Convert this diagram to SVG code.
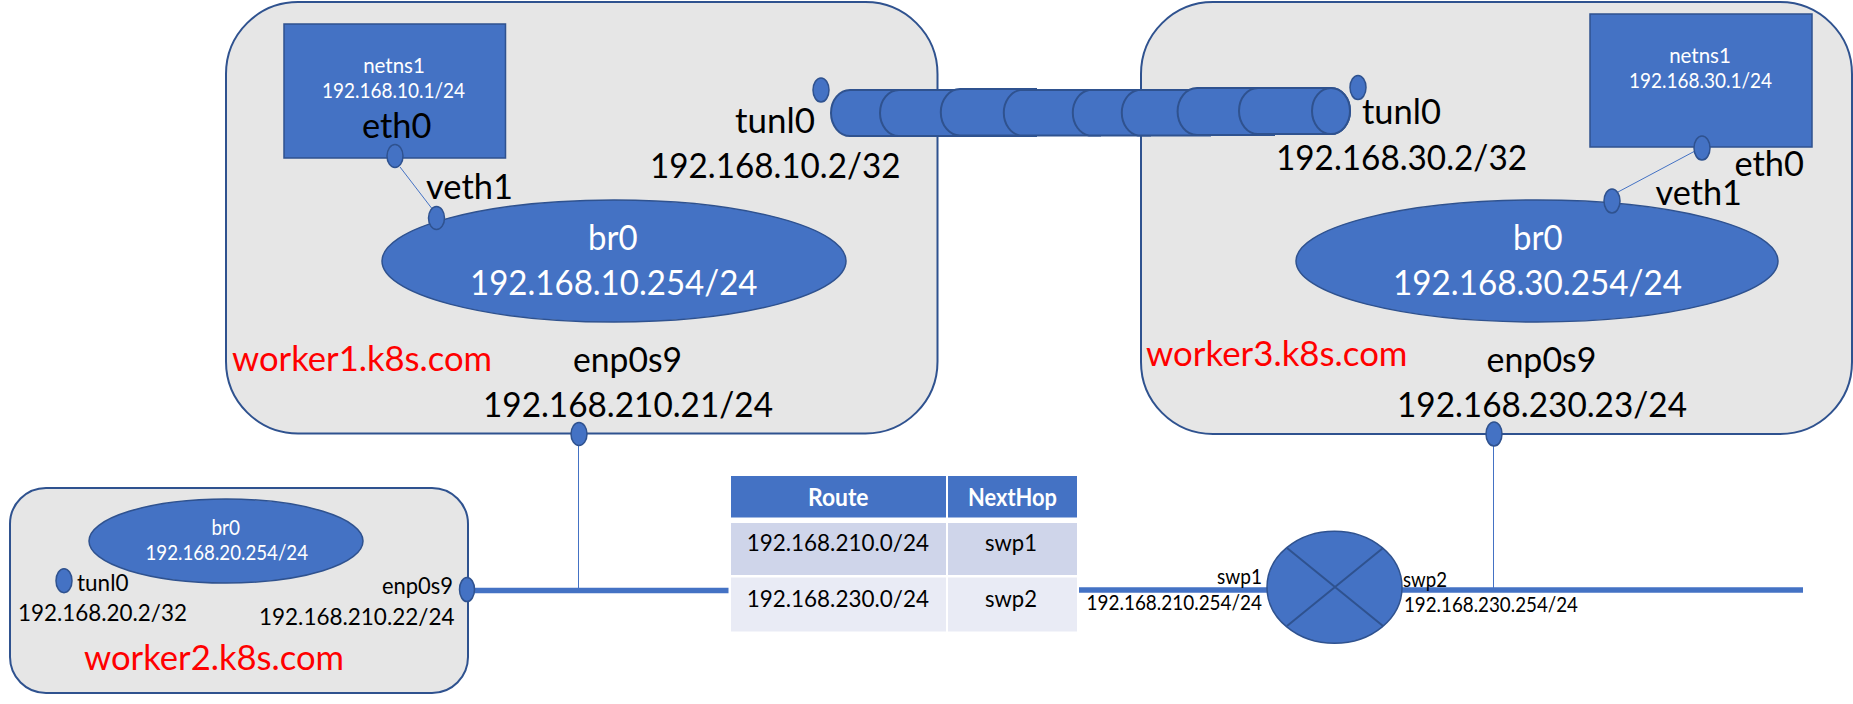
<svg xmlns="http://www.w3.org/2000/svg" width="1853" height="704" viewBox="0 0 1853 704">
<style>
text{font-family:Lato,"Liberation Sans",sans-serif;fill:#000;white-space:pre}
.xl{font-size:35px}
.m{font-size:24px}
.s{font-size:21.5px}
.n{font-size:20.5px;fill:#fff}
.w{fill:#fff}
.r{fill:#f00}
.b{font-weight:700;fill:#fff}
.host{fill:#e6e6e6;stroke:#2f528f;stroke-width:2}
.blue{fill:#4472c4;stroke:#2f528f;stroke-width:1.5}
.port{fill:#4472c4;stroke:#2f528f;stroke-width:1.5}
.thin{stroke:#4472c4;stroke-width:1;fill:none}
.bus{stroke:#4472c4;stroke-width:5.5;fill:none}
.x{stroke:#2f528f;stroke-width:2;fill:none}
.cyl{fill:#4472c4;stroke:#2f528f;stroke-width:2}
</style>
<rect width="1853" height="704" fill="#fff"/>

<g id="worker1">
<rect class="host" x="226" y="2" width="711.500" height="431.500" rx="72" ry="72"/>
<text class="xl r" x="232" y="371" textLength="260" lengthAdjust="spacingAndGlyphs">worker1.k8s.com</text>
</g>
<g id="worker3">
<rect class="host" x="1141" y="2" width="711" height="432" rx="72" ry="72"/>
<text class="xl r" x="1146" y="366" textLength="261.500" lengthAdjust="spacingAndGlyphs">worker3.k8s.com</text>
</g>
<g id="worker2">
<rect class="host" x="10" y="488" width="458" height="205" rx="36" ry="36"/>
<text class="xl r" x="84" y="670" textLength="260" lengthAdjust="spacingAndGlyphs">worker2.k8s.com</text>
</g>

<g id="connectors">
<path class="thin" d="M400 167L431.500 208"/>
<path class="thin" d="M1695 151L1618 192"/>
<path class="thin" d="M578.500 446V590"/>
<path class="thin" d="M1493.500 446V590"/>
<path class="bus" d="M474 590.500H728.500"/>
<path class="bus" d="M1079 590H1267"/>
<path class="bus" d="M1402 590H1803"/>
</g>

<g id="netns1-w1">
<rect class="blue" x="284" y="24" width="221.500" height="134"/>
<text class="n" x="394" y="73" text-anchor="middle">netns1</text>
<text class="n" x="322" y="98" textLength="143" lengthAdjust="spacingAndGlyphs">192.168.10.1/24</text>
<text class="xl" x="362" y="138" textLength="69.500" lengthAdjust="spacingAndGlyphs">eth0</text>
</g>
<g id="eth0-w1"><ellipse class="port" cx="395" cy="156" rx="8" ry="11.500"/></g>
<g id="br0-w1">
<ellipse class="blue" cx="614" cy="261" rx="232" ry="61"/>
<text class="xl w" x="588" y="250" textLength="49.500" lengthAdjust="spacingAndGlyphs">br0</text>
<text class="xl w" x="470" y="295" textLength="287.500" lengthAdjust="spacingAndGlyphs">192.168.10.254/24</text>
</g>
<g id="veth1-w1">
<ellipse class="port" cx="436.500" cy="218" rx="8" ry="11.500"/>
<text class="xl" x="426" y="199" textLength="87" lengthAdjust="spacingAndGlyphs">veth1</text>
</g>
<g id="tunl0-w1">
<ellipse class="port" cx="821" cy="90" rx="8" ry="12"/>
<text class="xl" x="735" y="133" textLength="80" lengthAdjust="spacingAndGlyphs">tunl0</text>
<text class="xl" x="650" y="178" textLength="250.500" lengthAdjust="spacingAndGlyphs">192.168.10.2/32</text>
</g>
<g id="enp0s9-w1">
<ellipse class="port" cx="579" cy="434" rx="8" ry="11.500"/>
<text class="xl" x="573" y="372" textLength="109" lengthAdjust="spacingAndGlyphs">enp0s9</text>
<text class="xl" x="483" y="417" textLength="290" lengthAdjust="spacingAndGlyphs">192.168.210.21/24</text>
</g>

<g id="tunnel">
<path class="cyl" d="M850 90A19 23 0 0 0 850 136H1036V90Z"/>
<path class="cyl" d="M899 90A19 23 0 0 0 899 136H1036V90Z"/>
<path class="cyl" d="M960 89A19 23 0 0 0 960 135.500H1036V89Z"/>
<path class="cyl" d="M1020 90A19 23 0 0 0 1020 135.500H1100V90Z"/>
<path class="cyl" d="M1089 90A19 23 0 0 0 1089 135.500H1150V90Z"/>
<path class="cyl" d="M1138 90A19 23 0 0 0 1138 135.500H1210V90Z"/>
<path class="cyl" d="M1197 88A19 23 0 0 0 1197 135H1274V88Z"/>
<path class="cyl" d="M1258 88A19 23 0 0 0 1258 134H1331A19 23 0 0 0 1331 88Z"/>
<ellipse class="cyl" cx="1331" cy="111" rx="19" ry="23"/>
</g>

<g id="netns1-w3">
<rect class="blue" x="1590" y="14" width="222" height="133"/>
<text class="n" x="1700" y="63" text-anchor="middle">netns1</text>
<text class="n" x="1629" y="88" textLength="143" lengthAdjust="spacingAndGlyphs">192.168.30.1/24</text>
</g>
<g id="eth0-w3">
<ellipse class="port" cx="1702" cy="148" rx="8" ry="12"/>
<text class="xl" x="1734.500" y="176" textLength="69.500" lengthAdjust="spacingAndGlyphs">eth0</text>
</g>
<g id="br0-w3">
<ellipse class="blue" cx="1537" cy="261" rx="241" ry="61"/>
<text class="xl w" x="1513" y="250" textLength="49.500" lengthAdjust="spacingAndGlyphs">br0</text>
<text class="xl w" x="1393" y="295" textLength="289" lengthAdjust="spacingAndGlyphs">192.168.30.254/24</text>
</g>
<g id="veth1-w3">
<ellipse class="port" cx="1612" cy="201" rx="8" ry="12"/>
<text class="xl" x="1655.500" y="205" textLength="86.500" lengthAdjust="spacingAndGlyphs">veth1</text>
</g>
<g id="tunl0-w3">
<ellipse class="port" cx="1358" cy="87.500" rx="8" ry="12"/>
<text class="xl" x="1362" y="124" textLength="79" lengthAdjust="spacingAndGlyphs">tunl0</text>
<text class="xl" x="1276" y="170" textLength="251" lengthAdjust="spacingAndGlyphs">192.168.30.2/32</text>
</g>
<g id="enp0s9-w3">
<ellipse class="port" cx="1494" cy="434" rx="8" ry="12"/>
<text class="xl" x="1486.500" y="372" textLength="110" lengthAdjust="spacingAndGlyphs">enp0s9</text>
<text class="xl" x="1397" y="417" textLength="290" lengthAdjust="spacingAndGlyphs">192.168.230.23/24</text>
</g>

<g id="br0-w2">
<ellipse class="blue" cx="226" cy="541" rx="137" ry="42"/>
<text class="n" x="211.500" y="535" textLength="28.500" lengthAdjust="spacingAndGlyphs">br0</text>
<text class="n" x="145.500" y="560" textLength="162.500" lengthAdjust="spacingAndGlyphs">192.168.20.254/24</text>
</g>
<g id="tunl0-w2">
<ellipse class="port" cx="64" cy="580.700" rx="8" ry="12"/>
<text class="m" x="77" y="590.700" textLength="51.500" lengthAdjust="spacingAndGlyphs">tunl0</text>
<text class="m" x="18" y="620.700" textLength="169" lengthAdjust="spacingAndGlyphs">192.168.20.2/32</text>
</g>
<g id="enp0s9-w2">
<ellipse class="port" cx="467" cy="589.500" rx="7.500" ry="12"/>
<text class="m" x="382" y="594" textLength="71" lengthAdjust="spacingAndGlyphs">enp0s9</text>
<text class="m" x="259" y="625" textLength="195.500" lengthAdjust="spacingAndGlyphs">192.168.210.22/24</text>
</g>

<g id="route-table">
<rect x="731" y="476" width="215" height="41.500" fill="#4472c4"/>
<rect x="948" y="476" width="129" height="41.500" fill="#4472c4"/>
<rect x="731" y="523" width="215" height="52" fill="#cfd5ea"/>
<rect x="948" y="523" width="129" height="52" fill="#cfd5ea"/>
<rect x="731" y="577.500" width="215" height="54" fill="#e9ebf5"/>
<rect x="948" y="577.500" width="129" height="54" fill="#e9ebf5"/>
<text class="m b" x="808" y="505.700" textLength="60.500" lengthAdjust="spacingAndGlyphs">Route</text>
<text class="m b" x="968" y="505.700" textLength="89" lengthAdjust="spacingAndGlyphs">NextHop</text>
<text class="m" x="746.700" y="550.700" textLength="182.300" lengthAdjust="spacingAndGlyphs">192.168.210.0/24</text>
<text class="m" x="985" y="550.700" textLength="52" lengthAdjust="spacingAndGlyphs">swp1</text>
<text class="m" x="746.700" y="606.700" textLength="182.300" lengthAdjust="spacingAndGlyphs">192.168.230.0/24</text>
<text class="m" x="985" y="606.700" textLength="52" lengthAdjust="spacingAndGlyphs">swp2</text>
</g>

<g id="router">
<ellipse class="blue" cx="1334.500" cy="587.300" rx="67.500" ry="56"/>
<path class="x" d="M1287 548L1383 626M1383 548L1287 626"/>
<text class="s" x="1217" y="584" textLength="45" lengthAdjust="spacingAndGlyphs">swp1</text>
<text class="s" x="1086.600" y="610" textLength="175.400" lengthAdjust="spacingAndGlyphs">192.168.210.254/24</text>
<text class="s" x="1403" y="586.700" textLength="44" lengthAdjust="spacingAndGlyphs">swp2</text>
<text class="s" x="1404" y="611.700" textLength="174" lengthAdjust="spacingAndGlyphs">192.168.230.254/24</text>
</g>
</svg>
